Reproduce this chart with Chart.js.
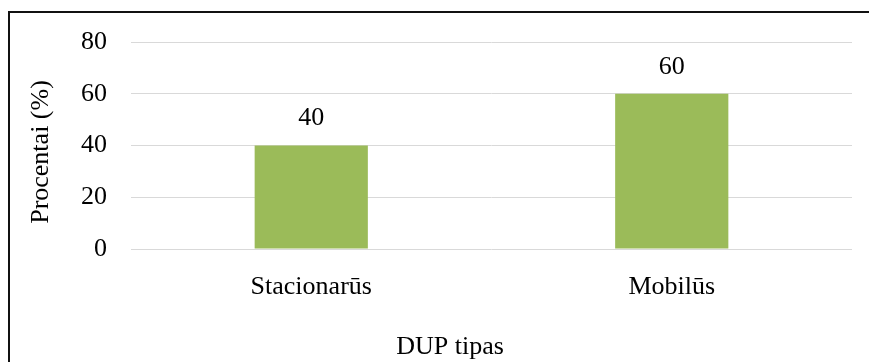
<!DOCTYPE html>
<html>
<head>
<meta charset="utf-8">
<script src="https://cdn.jsdelivr.net/npm/chart.js@4"></script>
<style>
  html, body { margin: 0; padding: 0; background: #fff; overflow: hidden; }
  #wrap { position: relative; width: 869px; height: 362px; overflow: hidden; }
  #frame { position: absolute; left: 8px; top: 11px; width: 1000px; height: 1000px; border: 2px solid #111; }
  #chart { position: absolute; left: 0; top: 0; }
</style>
</head>
<body>
<div id="wrap">
  <div id="frame"></div>
  <canvas id="chart" width="900" height="363"></canvas>
</div>
<script>
// Chart data
const categories = ['Stacionarūs', 'Mobilūs'];
const percentValues = [40, 60];
const yTicks = [0, 20, 40, 60, 80];

const FONT = '"Liberation Serif", "Times New Roman", serif';
const barColor = '#9BBB59';

// Draws the value above each bar
const valueLabels = {
    id: 'valueLabels',
    afterDatasetsDraw(chart) {
        const ctx = chart.ctx;
        const meta = chart.getDatasetMeta(0);
        ctx.save();
        ctx.font = '26px ' + FONT;
        ctx.fillStyle = '#000';
        ctx.textAlign = 'center';
        ctx.textBaseline = 'middle';
        meta.data.forEach((bar, i) => {
            ctx.fillText(String(percentValues[i]), bar.x, bar.y - 27);
        });
        ctx.restore();
    }
};

const ctx = document.getElementById('chart').getContext('2d');
new Chart(ctx, {
    type: 'bar',
    data: {
        labels: categories,
        datasets: [{
            data: percentValues,
            backgroundColor: barColor,
            borderWidth: 0,
            barPercentage: 0.314,
            categoryPercentage: 1
        }]
    },
    options: {
        responsive: false,
        animation: false,
        layout: { padding: { top: 42, left: 0, right: 0, bottom: 0 } },
        plugins: {
            legend: { display: false },
            tooltip: { enabled: false },
            title: {
                display: true,
                position: 'bottom',
                text: 'DUP tipas',
                color: '#000',
                font: { family: FONT, size: 26, weight: 'normal' },
                padding: { top: 0, bottom: 0 }
            }
        },
        scales: {
            x: {
                grid: { display: false },
                border: { display: false },
                ticks: { color: '#000', font: { family: FONT, size: 26 }, padding: 15 },
                afterFit(scale) { scale.height = 82.8; }
            },
            y: {
                min: 0,
                max: 80,
                afterBuildTicks(scale) { scale.ticks = yTicks.map(v => ({ value: v })); },
                grid: { color: '#D9D9D9', lineWidth: 1, drawTicks: false },
                border: { display: false },
                ticks: { color: '#000', font: { family: FONT, size: 26 }, padding: 24 },
                title: {
                    display: true,
                    text: 'Procentai (%)  ',
                    color: '#000',
                    font: { family: FONT, size: 26 },
                    padding: { top: 26, bottom: 0 }
                },
                afterFit(scale) { scale.width = 131; }
            },
            yRight: {
                position: 'right',
                grid: { display: false },
                border: { display: false },
                ticks: { display: false },
                afterFit(scale) { scale.width = 48; }
            }
        }
    },
    plugins: [valueLabels]
});
</script>
</body>
</html>
